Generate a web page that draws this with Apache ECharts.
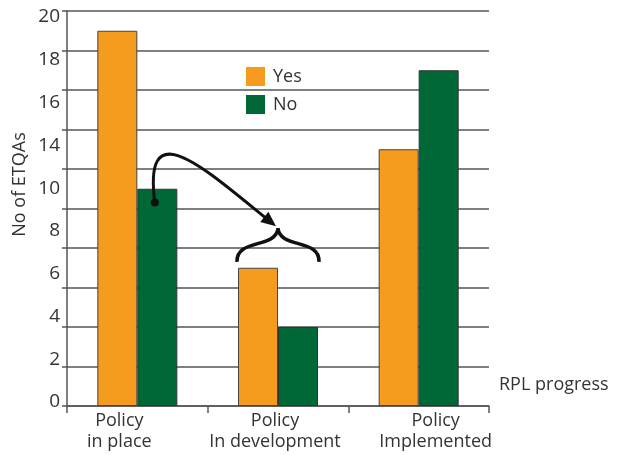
<!DOCTYPE html>
<html>
<head>
<meta charset="utf-8">
<script src="https://cdn.jsdelivr.net/npm/echarts@6/dist/echarts.min.js"></script>
<style>
  html, body { margin: 0; padding: 0; background: #fff; }
  #chart { width: 620px; height: 455px; }
</style>
</head>
<body>
<div id="chart"></div>
<script>
// Categories along the x axis
var categories = ['Policy\nin place', 'Policy\nIn development', 'Policy\nImplemented'];
// Number of ETQAs answering Yes / No per stage
var yesValues = [19, 7, 13];
var noValues = [11, 4, 17];
// Printed tick labels on the value axis (12 is not printed)
var yTickLabels = ['0', '2', '4', '6', '8', '10', '14', '16', '18', '20'];

var FONT = '"Open Sans", "Noto Sans", sans-serif';
var TEXT = '#333';
var ORANGE = '#F59B1E';
var GREEN = '#006837';

var chart = echarts.init(document.getElementById('chart'), null, { renderer: 'canvas' });

// the printed labels are spread evenly over the axis height
var labelIdx = yTickLabels.map(function (_, i) { return i; });
var shiftStyles = ['l', 'm', 'r'];

var option = {
  animation: false,
  textStyle: { fontFamily: FONT },
  grid: { left: 67, right: 131, top: 11, bottom: 49, containLabel: false },
  legend: {
    orient: 'vertical',
    left: 246,
    top: 67,
    padding: 0,
    itemWidth: 19,
    itemHeight: 19,
    itemGap: 9,
    icon: 'rect',
    itemStyle: { borderWidth: 0 },
    textStyle: { fontFamily: FONT, fontSize: 18, color: TEXT, padding: [0, 0, 0, 3] },
    data: ['Yes', 'No']
  },
  xAxis: {
    type: 'category',
    data: categories,
    boundaryGap: true,
    name: 'RPL progress',
    nameLocation: 'end',
    nameGap: 10,
    nameTextStyle: {
      fontFamily: FONT, fontSize: 18, color: TEXT,
      align: 'left', verticalAlign: 'bottom', padding: [0, 0, 12, 0]
    },
    axisLine: { show: true, lineStyle: { color: '#555', width: 1.5 } },
    axisTick: { show: true, interval: 0, length: 7, lineStyle: { color: '#555', width: 1.5 } },
    axisLabel: {
      interval: 0,
      hideOverlap: false,
      margin: 4,
      fontFamily: FONT,
      fontSize: 18,
      color: TEXT,
      lineHeight: 21,
      formatter: function (value, index) {
        var s = shiftStyles[index] || 'm';
        return value.split('\n').map(function (line) {
          return '{' + s + '|' + line + '}';
        }).join('\n');
      },
      rich: {
        l: { fontFamily: FONT, fontSize: 18, color: TEXT, lineHeight: 21, padding: [0, 36, 0, 0] },
        m: { fontFamily: FONT, fontSize: 18, color: TEXT, lineHeight: 21, padding: [0, 6, 0, 0] },
        r: { fontFamily: FONT, fontSize: 18, color: TEXT, lineHeight: 21, padding: [0, 0, 0, 34] }
      }
    }
  },
  yAxis: [
    {
      type: 'value',
      min: 0,
      max: 20,
      interval: 2,
      name: 'No of ETQAs',
      nameLocation: 'middle',
      nameGap: 38,
      nameRotate: 90,
      nameTextStyle: { fontFamily: FONT, fontSize: 18, color: TEXT, padding: [0, 0, 0, 48] },
      axisLine: { show: true, lineStyle: { color: '#555', width: 1.5 } },
      axisTick: { show: true, length: 5, lineStyle: { color: '#555', width: 1.5 } },
      axisLabel: { show: false },
      splitLine: { show: true, lineStyle: { color: '#555', width: 1.5 } }
    },
    {
      // label-only axis carrying the printed tick values
      type: 'value',
      position: 'left',
      min: -0.0935,
      max: 9.14,
      axisLine: { show: false },
      axisTick: { show: false },
      splitLine: { show: false },
      axisLabel: {
        margin: 7,
        fontFamily: FONT,
        fontSize: 19,
        color: TEXT,
        customValues: labelIdx,
        formatter: function (v) {
          var i = Math.round(v);
          return yTickLabels[i] !== undefined ? yTickLabels[i] : '';
        }
      }
    }
  ],
  series: [
    {
      name: 'Yes',
      type: 'bar',
      yAxisIndex: 0,
      data: yesValues,
      barWidth: 40,
      barGap: '0%',
      itemStyle: { color: ORANGE, borderColor: '#444', borderWidth: 1 }
    },
    {
      name: 'No',
      type: 'bar',
      yAxisIndex: 0,
      data: noValues,
      barWidth: 40,
      barGap: '0%',
      itemStyle: { color: GREEN, borderColor: '#333', borderWidth: 1 }
    }
  ]
};

chart.setOption(option);

// Annotation: curved arrow from the "in place / No" bar to a brace over "In development"
var toPx = function (cat, val) {
  return chart.convertToPixel({ xAxisIndex: 0, yAxisIndex: 0 }, [cat, val]);
};
var a = toPx(0, 10.3);     // anchor on the first group
var b = toPx(1, 9.0);      // brace tip over the second group
var braceBottom = toPx(1, 7.3);

var dot = [a[0] + 17.5, a[1]];
var tip = [b[0] - 2, b[1] - 2];
var c1 = [dot[0] - 12, dot[1] - 92];
var c2 = [tip[0] - 72, tip[1] - 58];
var end = [tip[0] - 5, tip[1] - 4];

var dirX = tip[0] - c2[0], dirY = tip[1] - c2[1];
var len = Math.sqrt(dirX * dirX + dirY * dirY);
dirX /= len; dirY /= len;
var headLen = 15, headHalf = 6.5;
var baseX = tip[0] - dirX * headLen, baseY = tip[1] - dirY * headLen;
var w1 = [baseX - dirY * headHalf, baseY + dirX * headHalf];
var w2 = [baseX + dirY * headHalf, baseY - dirX * headHalf];

// brace: two S-shaped halves meeting at the tip
var bx = b[0], by = b[1];
var bh = braceBottom[1] - by;   // brace height
var bw = 41;                    // brace half width
function braceHalf(side) {
  return {
    type: 'bezierCurve',
    z: 100,
    shape: {
      x1: bx + side * bw, y1: by + bh,
      cpx1: bx + side * (bw + 1), cpy1: by + bh * 0.3,
      cpx2: bx + side * 2, cpy2: by + bh * 0.62,
      x2: bx, y2: by
    },
    style: { stroke: '#111', lineWidth: 3.5, fill: null, lineCap: 'butt' }
  };
}

chart.setOption({
  graphic: [
    {
      type: 'bezierCurve',
      z: 100,
      shape: {
        x1: dot[0], y1: dot[1],
        cpx1: c1[0], cpy1: c1[1],
        cpx2: c2[0], cpy2: c2[1],
        x2: end[0], y2: end[1]
      },
      style: { stroke: '#111', lineWidth: 3, fill: null }
    },
    {
      type: 'polygon',
      z: 101,
      shape: { points: [tip, w1, w2] },
      style: { fill: '#111' }
    },
    {
      type: 'circle',
      z: 101,
      shape: { cx: dot[0], cy: dot[1], r: 4 },
      style: { fill: '#111' }
    },
    braceHalf(-1),
    braceHalf(1)
  ]
});
</script>
</body>
</html>
